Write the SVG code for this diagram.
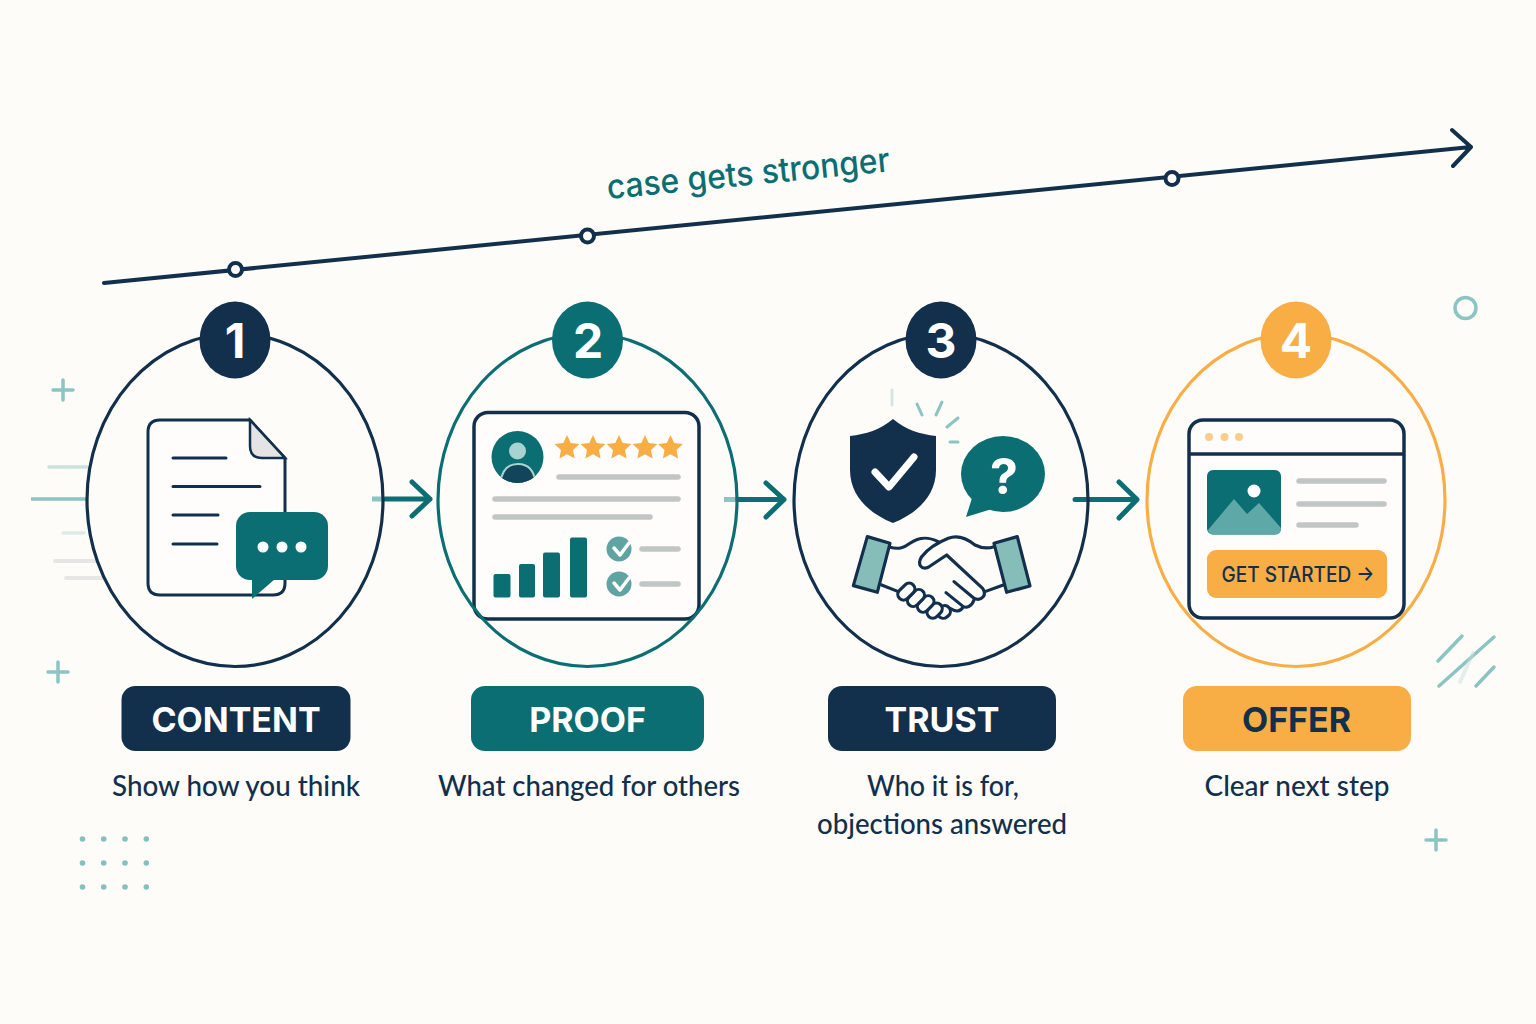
<svg xmlns="http://www.w3.org/2000/svg" width="1536" height="1024" viewBox="0 0 1536 1024">
<style>
.ring{fill:none;stroke-width:3.2}
.navy{fill:#12304c}.teal{fill:#0b6e72}.org{fill:#f8ad45}
.sn{stroke:#12304c}.st{stroke:#0b6e72}.so{stroke:#f8ad45}
.num{font:700 48px Inter,"Liberation Sans",sans-serif;fill:#fff;text-anchor:middle}
.lab{font:700 34px Inter,"Liberation Sans",sans-serif;fill:#fff;text-anchor:middle}
.cap{font:500 29px Lato,"Liberation Sans",sans-serif;fill:#12304c;text-anchor:middle}
.l{fill:none;stroke:#12304c;stroke-width:3.5;stroke-linecap:round}
.g{fill:none;stroke:#c2c5c6;stroke-width:5.5;stroke-linecap:round}
.card{fill:#fefdfb;stroke:#12304c;stroke-width:3.5}
.d{fill:none;stroke:#8cc4c2;stroke-width:3.5;stroke-linecap:round}
.p{fill:none;stroke-linecap:round;opacity:.45}
.ar{fill:none;stroke:#0b6e72;stroke-width:5;stroke-linecap:round;stroke-linejoin:round}
.h{fill:none;stroke:#12304c;stroke-width:9.5;stroke-linecap:round;stroke-linejoin:round}
.f{fill:#fdfcf8;stroke:#12304c;stroke-width:9.5}
</style>
<defs>
<polygon id="star" fill="#f8ad45" points="0,-13 3.7,-5.1 12.4,-4 6,1.9 7.6,10.5 0,6.3 -7.6,10.5 -6,1.9 -12.4,-4 -3.7,-5.1"/>
<clipPath id="av"><circle cx="517.500" cy="457" r="26"/></clipPath>
</defs>
<rect width="1536" height="1024" fill="#fdfcf8"/>

<g id="decor">
<path class="d" d="M63 380V400M53 390H73M58 662V682M48 672H68M1436 830V850M1426 840H1446"/>
<circle cx="1465.500" cy="308" r="10.500" fill="none" stroke="#8cc4c2" stroke-width="3.500"/>
<path class="d" d="M1438 661L1462 636M1439 686L1494 637M1476 686L1494 667"/>
<path class="p" stroke="#c6dedb" stroke-width="4" d="M1460 682L1473 653"/>
<path class="p" stroke="#8cc4c2" stroke-width="3.500" d="M49 467H87"/>
<path stroke="#8cc4c2" stroke-width="3.500" d="M31 499H87"/>
<path class="p" stroke="#b9d8d5" stroke-width="3.500" d="M63 533H84"/>
<path class="p" stroke="#c9cfcd" stroke-width="4" d="M55 561H95M66 578H102"/>
<g fill="#86c0bd">
<circle cx="82.500" cy="839" r="2.800"/><circle cx="103.700" cy="839" r="2.800"/><circle cx="125" cy="839" r="2.800"/><circle cx="146.300" cy="839" r="2.800"/>
<circle cx="82.500" cy="863" r="2.800"/><circle cx="103.700" cy="863" r="2.800"/><circle cx="125" cy="863" r="2.800"/><circle cx="146.300" cy="863" r="2.800"/>
<circle cx="82.500" cy="887" r="2.800"/><circle cx="103.700" cy="887" r="2.800"/><circle cx="125" cy="887" r="2.800"/><circle cx="146.300" cy="887" r="2.800"/>
</g>
</g>

<g id="connectors">
<path fill="none" stroke="#12304c" stroke-width="4" stroke-linecap="round" stroke-linejoin="round" d="M104 283L1471 147M1452 130L1471 147L1453 166"/>
<g fill="#fdfcf8" stroke="#12304c" stroke-width="4">
<circle cx="235.500" cy="269.500" r="6.500"/><circle cx="587.500" cy="236" r="6.500"/><circle cx="1172" cy="178.500" r="6.500"/>
</g>
<path stroke="#8cc4c2" stroke-width="5" d="M372 499H386M724 499.500H738"/>
<path class="ar" d="M386 499H430M412 482L430 499L412 516"/>
<path class="ar" d="M738 499.500H784M766 483L784 499.500L766 517"/>
<path class="ar" d="M1075 499.500H1137M1119 482L1137 499.500L1119 518"/>
</g>
<text font-family="Inter,'Liberation Sans',sans-serif" font-weight="500" font-size="34" fill="#0b6e72" transform="translate(608 199) rotate(-5.600)" textLength="284" lengthAdjust="spacingAndGlyphs">case gets stronger</text>

<g id="node-1">
<path class="card" d="M160 420H250L285 458V583Q285 595 273 595H160Q148 595 148 583V432Q148 420 160 420Z" style="stroke-width:3"/>
<path d="M250 420L285 458H262Q250 458 250 446Z" fill="#e3e4e3" stroke="#12304c" stroke-width="2.500"/>
<path class="l" d="M173 458H226M173 486.500H260M173 515H218M173 544H217" style="stroke-width:3"/>
<rect class="teal" x="236" y="512" width="92" height="68" rx="14"/>
<polygon class="teal" points="252,575 252,599 275,579"/>
<g fill="#fff"><circle cx="263" cy="547" r="5.500"/><circle cx="282" cy="547" r="5.500"/><circle cx="301" cy="547" r="5.500"/></g>
<ellipse class="ring sn" cx="235" cy="500" rx="148" ry="166.500"/>
<ellipse class="navy" cx="235" cy="340" rx="35.500" ry="38.500"/>
<text class="num" x="235" y="358">1</text>
<rect class="navy" x="121.500" y="686" width="229" height="65" rx="14"/>
<text class="lab" x="236" y="732">CONTENT</text>
<text class="cap" x="236" y="796" textLength="248" lengthAdjust="spacingAndGlyphs">Show how you think</text>
</g>

<g id="node-2">
<rect class="card" x="474" y="412.500" width="225" height="206.500" rx="14"/>
<circle class="teal" cx="517.500" cy="457" r="26"/>
<g clip-path="url(#av)">
<path d="M500 490Q500 464 518 464Q536 464 536 490Z" fill="#12455a" stroke="#a9d3d0" stroke-width="2"/>
</g>
<circle cx="517.500" cy="451" r="8.500" fill="#a9d3d0"/>
<use href="#star" x="567" y="448"/><use href="#star" x="593" y="448"/><use href="#star" x="619" y="448"/><use href="#star" x="645" y="448"/><use href="#star" x="670.500" y="448"/>
<path class="g" d="M559 477H678M495 499H678M495 517H650M642 549H678M642 584H678"/>
<g class="teal">
<rect x="493.500" y="574" width="17" height="23.500" rx="2"/><rect x="519" y="564" width="16" height="33.500" rx="2"/><rect x="543" y="552.500" width="17" height="45" rx="2"/><rect x="570" y="537.500" width="17" height="60" rx="2"/>
</g>
<g fill="#5fa3a3"><circle cx="619" cy="549" r="12.500"/><circle cx="619" cy="584" r="12.500"/></g>
<path fill="none" stroke="#fff" stroke-width="3.500" stroke-linecap="round" stroke-linejoin="round" d="M614 548L620 555L629 543M614 583L620 590L629 578"/>
<ellipse class="ring st" cx="587.500" cy="500" rx="149.500" ry="166.500"/>
<ellipse class="teal" cx="587.500" cy="340" rx="35.500" ry="38.500"/>
<text class="num" x="588" y="358">2</text>
<rect class="teal" x="471" y="686" width="233" height="65" rx="14"/>
<text class="lab" x="587.500" y="732">PROOF</text>
<text class="cap" x="589" y="796" textLength="302" lengthAdjust="spacingAndGlyphs">What changed for others</text>
</g>

<g id="node-3">
<path class="navy" d="M893 419C906 430 920 434 936 436V470C936 495 918 513 893 523C868 513 850 495 850 470V436C866 434 880 430 893 419Z"/>
<path fill="none" stroke="#fff" stroke-width="7" stroke-linecap="round" stroke-linejoin="round" d="M875 472L889 487L914 457"/>
<path class="d" style="stroke-width:3" d="M917 404L922 415M942 402L936 415M958 418L947 427M950 442H958"/>
<path class="p" stroke="#a9c9c7" stroke-width="3" d="M892 390V405"/>
<ellipse class="teal" cx="1003" cy="474" rx="42" ry="38"/>
<polygon class="teal" points="973,495 966,517 995,508"/>
<text x="1004" y="494" text-anchor="middle" font-family="Inter,'Liberation Sans',sans-serif" font-weight="700" font-size="50" fill="#fff">?</text>
<g transform="translate(790 290) scale(.3333)">
<polygon points="232,740 300,760 262,907 190,887" fill="#86bdb9" stroke="#12304c" stroke-width="9.500" stroke-linejoin="round"/>
<polygon points="612,760 682,740 720,888 650,907" fill="#86bdb9" stroke="#12304c" stroke-width="9.500" stroke-linejoin="round"/>
<path class="h" d="M300 772C325 778 340 775 360 760C385 742 410 738 445 755M612 770C590 778 575 775 555 765C530 745 500 735 475 745C450 755 415 775 395 800C380 825 395 840 415 832L470 795L578 895C592 915 575 935 552 925L492 875M552 930C545 950 530 955 520 950L468 908M520 950C510 968 495 965 480 955M275 885L325 905M585 905L640 885"/>
<g transform="translate(462 966) rotate(-40)"><rect class="f" x="-20" y="-17" width="40" height="34" rx="17"/></g>
<g transform="translate(434 962) rotate(-45)"><rect class="f" x="-25" y="-17" width="50" height="34" rx="17"/></g>
<g transform="translate(407 942) rotate(-45)"><rect class="f" x="-28" y="-17" width="56" height="34" rx="17"/></g>
<g transform="translate(378 924) rotate(-45)"><rect class="f" x="-29" y="-17" width="58" height="34" rx="17"/></g>
<g transform="translate(349 905) rotate(-45)"><rect class="f" x="-29" y="-17" width="58" height="34" rx="17"/></g>
</g>
<ellipse class="ring sn" cx="941" cy="500" rx="147" ry="166.500"/>
<ellipse class="navy" cx="941" cy="340" rx="35.500" ry="38.500"/>
<text class="num" x="941" y="358">3</text>
<rect class="navy" x="828" y="686" width="228" height="65" rx="14"/>
<text class="lab" x="942" y="732">TRUST</text>
<text class="cap" x="943" y="796" textLength="152" lengthAdjust="spacingAndGlyphs">Who it is for,</text>
<text class="cap" x="942" y="834" textLength="250" lengthAdjust="spacingAndGlyphs">objections answered</text>
</g>

<g id="node-4">
<rect class="card" x="1189" y="420" width="215" height="198" rx="14"/>
<path class="l" d="M1189 454H1404" style="stroke-linecap:butt"/>
<g fill="#f9cd8b"><circle cx="1209" cy="437" r="4"/><circle cx="1224.500" cy="437" r="4"/><circle cx="1239" cy="437" r="4"/></g>
<rect class="teal" x="1207" y="470" width="74" height="64.500" rx="6"/>
<path fill="#5fa8a8" d="M1208 530L1234 499L1247 514L1259 503L1281 528V528.500Q1281 534.500 1275 534.500H1213Q1209 534.500 1208 530Z"/>
<circle cx="1254" cy="491" r="6.500" fill="#fff"/>
<path class="g" d="M1299 481H1384M1299 504H1384M1299 525H1356"/>
<rect class="org" x="1207" y="550" width="180" height="48" rx="9"/>
<text x="1221.500" y="582" font-family="Inter,'Liberation Sans',sans-serif" font-weight="500" font-size="21" fill="#12304c" textLength="153" lengthAdjust="spacingAndGlyphs">GET STARTED →</text>
<ellipse class="ring so" cx="1296" cy="500" rx="149" ry="166.500"/>
<ellipse class="org" cx="1296" cy="340" rx="35.500" ry="38.500"/>
<text class="num" x="1296" y="358">4</text>
<rect class="org" x="1183" y="686" width="228" height="65" rx="14"/>
<text class="lab" x="1296.500" y="732" style="fill:#12304c">OFFER</text>
<text class="cap" x="1297" y="796" textLength="185" lengthAdjust="spacingAndGlyphs">Clear next step</text>
</g>
</svg>
